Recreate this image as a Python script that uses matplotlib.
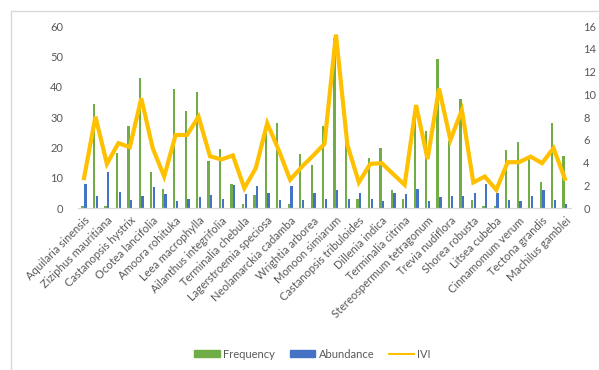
import numpy as np
import matplotlib.pyplot as plt
from matplotlib.patches import Rectangle, Patch
from matplotlib.lines import Line2D

plt.rcParams['font.family'] = ['Lato', 'DejaVu Sans']

# Species shown on the axis (every other position is labelled)
species = ["Aquilaria sinensis", "Ziziphus mauritiana", "Castanopsis hystrix",
           "Ocotea lancifolia", "Amoora rohituka", "Leea macrophylla",
           "Ailanthus integrifolia", "Terminalia chebula", "Lagerstroemia speciosa",
           "Neolamarckia cadamba", "Wrightia arborea", "Monoon simiarum",
           "Castanopsis tribuloides", "Dillenia indica", "Terminalia citrina",
           "Stereospermum tetragonum", "Trevia nudiflora", "Shorea robusta",
           "Litsea cubeba", "Cinnamomum verum", "Tectona grandis", "Machilus gamblei"]

frequency = [0.7, 34.3, 0.7, 18.1, 27.0, 42.7, 12.0, 6.3, 39.2, 32.1,
             38.4, 15.6, 19.4, 8.0, 1.4, 4.4, 28.0, 27.9, 1.4, 17.8,
             14.2, 27.0, 56.0, 27.0, 3.0, 16.4, 19.9, 5.8, 3.0, 33.0,
             25.5, 49.0, 22.0, 36.1, 2.7, 0.75, 0.75, 19.2, 21.9, 16.0,
             8.5, 27.9, 17.2]
abundance = [8.0, 4.1, 11.8, 5.3, 2.7, 4.1, 6.9, 4.7, 2.2, 3.0,
             3.5, 4.4, 3.0, 7.5, 4.6, 7.4, 5.1, 2.7, 7.1, 2.7,
             5.1, 3.0, 6.0, 3.0, 5.1, 3.0, 2.4, 5.1, 4.6, 6.2,
             2.2, 3.6, 3.8, 4.1, 4.9, 8.0, 5.1, 2.7, 2.4, 3.8,
             5.8, 2.7, 1.4]
ivi = [2.63, 8.03, 3.88, 5.7, 5.35, 9.64, 5.26, 2.77, 6.42, 6.42,
       8.03, 4.55, 4.27, 4.62, 1.75, 3.5, 7.45, 5.1, 2.48, 3.6,
       4.6, 5.64, 15.25, 5.55, 2.25, 3.88, 3.94, 2.98, 2.04, 9.05,
       4.3, 10.5, 5.99, 8.6, 2.25, 2.77, 1.6, 4.03, 4.03, 4.52,
       3.94, 5.26, 2.57]

green = "#70AD47"
blue = "#4472C4"
gold = "#FFC000"
text_col = "#595959"

x = np.arange(len(frequency))
w = 0.2

fig = plt.figure(figsize=(5.99, 3.70), dpi=100)
ax = fig.add_axes([0.1307, 0.4378, 0.822, 0.4919])

ax.bar(x - 0.12, frequency, width=w, color=green)
ax.bar(x + 0.12, abundance, width=w, color=blue)
ax.set_ylim(0, 60)
ax.set_yticks(np.arange(0, 61, 10))
ax.set_xlim(-0.5, len(x) - 0.5)
ax.set_xticks(x[::2])
ax.set_xticklabels(species, rotation=45, ha="right", rotation_mode="anchor")

ax2 = ax.twinx()
ax2.plot(x, ivi, color=gold, linewidth=3.0, solid_joinstyle="miter")
ax2.set_ylim(0, 16)
ax2.set_yticks(np.arange(0, 17, 2))

for a in (ax, ax2):
    for s in ("top", "left", "right"):
        a.spines[s].set_visible(False)
    a.spines["bottom"].set_color("#D9D9D9")
    a.tick_params(length=0, labelsize=8, colors=text_col)
ax.tick_params(axis="y", pad=11)
ax2.tick_params(axis="y", pad=9)
ax.tick_params(axis="x", pad=5)

# Legend under the chart
handles = [Patch(color=green, label="Frequency"),
           Patch(color=blue, label="Abundance"),
           Line2D([], [], color=gold, linewidth=1.5, label="IVI")]
fig.legend(handles=handles, loc="center", bbox_to_anchor=(0.522, 0.043), ncol=3,
           frameon=False, fontsize=8, labelcolor=text_col, handlelength=2.3,
           handleheight=0.5, columnspacing=1.3, handletextpad=0.3)

# Chart frame
fig.patches.append(Rectangle((11 / 599, -0.1), 1.1, (370 - 11) / 370 + 0.1,
                             transform=fig.transFigure, fill=False,
                             edgecolor="#D9D9D9", linewidth=1.0))

fig.savefig("out.png", dpi=100)
